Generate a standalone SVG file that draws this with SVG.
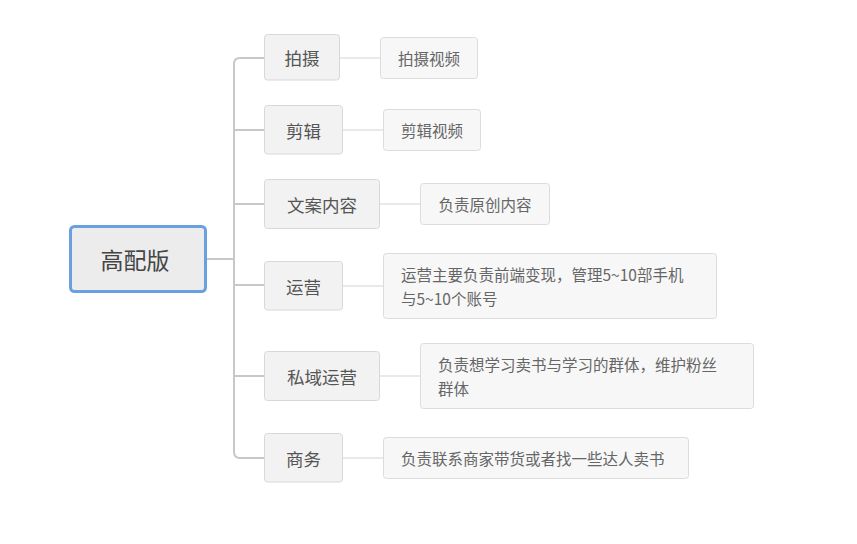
<svg xmlns="http://www.w3.org/2000/svg" width="857" height="544" viewBox="0 0 857 544">
<style>
text{font-family:"Noto Sans CJK SC","Liberation Sans",sans-serif;fill:#555;dominant-baseline:central}
.root rect{fill:#ececec;stroke:#6a9fe0;stroke-width:3}
.root text{font-size:23px;text-anchor:middle;fill:#444}
.l1 rect{fill:#f2f2f2;stroke:#d8d8d8;stroke-width:1}
.l1 text{font-size:17.5px;text-anchor:middle}
.l2 rect{fill:#f7f7f7;stroke:#dcdcdc;stroke-width:1}
.l2 text{font-size:15.5px;fill:#666}
.l2 text.c{text-anchor:middle}
.trunk{fill:none;stroke:#c8c8c8;stroke-width:2}
.sub{fill:none;stroke:#e2e2e2;stroke-width:1.5}
</style>
<rect width="857" height="544" fill="#fff"/>
<g id="connectors">
<path class="trunk" d="M206 259H234"/>
<path class="trunk" d="M264 58H240Q234 58 234 64V452Q234 458 240 458H264"/>
<path class="trunk" d="M234 130H264M234 204H264M234 285H264M234 376H264"/>
<path class="sub" d="M340 58H381M343 130H383M379 204H421M343 286H383M379 376H420M343 458H383"/>
</g>
<g id="root" class="root"><rect x="70.5" y="226.5" width="135" height="65" rx="4"/><text x="135" y="259">高配版</text></g>
<g id="n-paishe" class="l1"><rect x="264.5" y="34.5" width="75" height="45.5" rx="3"/><text x="302" y="57">拍摄</text></g>
<g id="n-jianji" class="l1"><rect x="264.5" y="105.5" width="78" height="48.5" rx="3"/><text x="303.5" y="130">剪辑</text></g>
<g id="n-wenan" class="l1"><rect x="264.5" y="179.5" width="115" height="49" rx="3"/><text x="322" y="204">文案内容</text></g>
<g id="n-yunying" class="l1"><rect x="264.5" y="261.5" width="78" height="48.5" rx="3"/><text x="303.5" y="286">运营</text></g>
<g id="n-siyu" class="l1"><rect x="264.5" y="351.5" width="115" height="49" rx="3"/><text x="322" y="376">私域运营</text></g>
<g id="n-shangwu" class="l1"><rect x="264.5" y="433.5" width="78" height="48.5" rx="3"/><text x="303.5" y="458">商务</text></g>
<g id="d-paishe" class="l2"><rect x="380.5" y="37.5" width="97" height="41" rx="3"/><text class="c" x="429" y="58">拍摄视频</text></g>
<g id="d-jianji" class="l2"><rect x="383.5" y="109.5" width="97" height="41" rx="3"/><text class="c" x="432" y="130">剪辑视频</text></g>
<g id="d-wenan" class="l2"><rect x="420.5" y="183.5" width="129" height="41" rx="3"/><text class="c" x="485" y="204">负责原创内容</text></g>
<g id="d-yunying" class="l2"><rect x="383.5" y="253.5" width="333" height="65" rx="3"/><text x="401" y="274">运营主要负责前端变现，管理5~10部手机</text><text x="401" y="298">与5~10个账号</text></g>
<g id="d-siyu" class="l2"><rect x="420.5" y="343.5" width="333" height="65" rx="3"/><text x="438" y="364">负责想学习卖书与学习的群体，维护粉丝</text><text x="438" y="388">群体</text></g>
<g id="d-shangwu" class="l2"><rect x="383.5" y="437.5" width="305" height="41" rx="3"/><text x="401" y="458">负责联系商家带货或者找一些达人卖书</text></g>
</svg>
